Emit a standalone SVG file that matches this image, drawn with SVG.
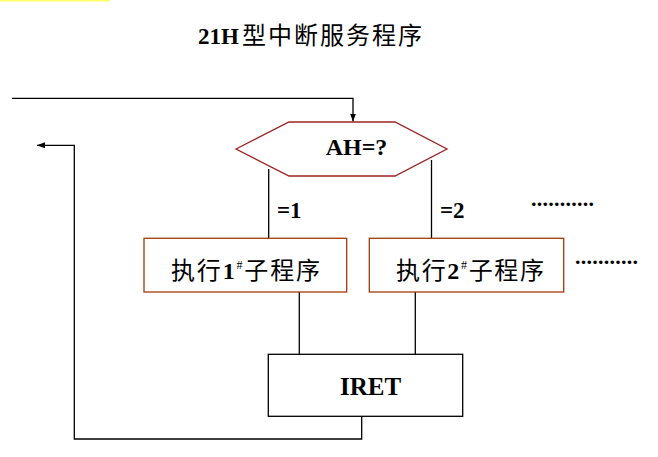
<svg xmlns="http://www.w3.org/2000/svg" width="658" height="457" viewBox="0 0 658 457">
<style>
.ln{fill:none;stroke:#000;stroke-width:1.3}
.hex{fill:#fff;stroke:#9c2222;stroke-width:1.3}
.box{fill:#fff;stroke:#a33a08;stroke-width:1.3}
.iret{fill:#fff;stroke:#000;stroke-width:1.3}
.lat{font-family:"Liberation Serif","Times New Roman",serif;font-weight:bold;fill:#000}
.cjk{font-family:"Liberation Serif","Noto Sans CJK SC",serif;fill:#000}
.b{font-weight:bold}
</style>
<defs>
<marker id="ah" markerWidth="8" markerHeight="6" refX="8" refY="3" orient="auto" markerUnits="userSpaceOnUse">
<path d="M0,0 L8,3 L0,6 Z" fill="#000"/>
</marker>
</defs>
<rect x="0" y="0" width="110" height="1.5" fill="#ffff66"/>
<g id="title">
<text class="lat" x="198" y="44" font-size="23">21H</text>
<text class="cjk" x="242" y="44" font-size="24" textLength="180" lengthAdjust="spacing">型中断服务程序</text>
</g>
<g id="connectors">
<path class="ln" d="M12,98.3 H353 V121.5" marker-end="url(#ah)"/>
<path class="ln" d="M268.7,169 V238.3"/>
<path class="ln" d="M431.5,160 V238.3"/>
<path class="ln" d="M299.3,292 V354.3"/>
<path class="ln" d="M415.3,292 V354.3"/>
<path class="ln" d="M361.7,416.3 V439 H74.3 V145.3 H37" marker-end="url(#ah)"/>
<text class="lat" x="277" y="217.5" font-size="23">=1</text>
<text class="lat" x="440" y="217.5" font-size="23">=2</text>
</g>
<g id="decision">
<polygon class="hex" points="236,149 289,122 395,122 447,149 395,176 289,176"/>
<text class="lat" x="356.5" y="154.5" font-size="24" text-anchor="middle">AH=?</text>
</g>
<g id="sub1">
<rect class="box" x="144" y="238.3" width="202.7" height="53.7"/>
<text class="cjk" x="171" y="279" font-size="24" textLength="149" lengthAdjust="spacing">执行<tspan class="b">1</tspan><tspan font-size="12" dy="-10">#</tspan><tspan dy="10">子程序</tspan></text>
</g>
<g id="sub2">
<rect class="box" x="369.3" y="238.3" width="194.4" height="53.7"/>
<text class="cjk" x="396" y="279" font-size="24" textLength="148" lengthAdjust="spacing">执行<tspan class="b">2</tspan><tspan font-size="12" dy="-10">#</tspan><tspan dy="10">子程序</tspan></text>
</g>
<g id="more1">
<text class="lat" x="531" y="205.5" font-size="22" textLength="63" lengthAdjust="spacing">...........</text>
</g>
<g id="more2">
<text class="lat" x="575" y="263.5" font-size="22" textLength="63" lengthAdjust="spacing">...........</text>
</g>
<g id="iret">
<rect class="iret" x="268.3" y="354.3" width="194.4" height="62"/>
<text class="lat" x="370.5" y="395" font-size="25" text-anchor="middle">IRET</text>
</g>
</svg>
